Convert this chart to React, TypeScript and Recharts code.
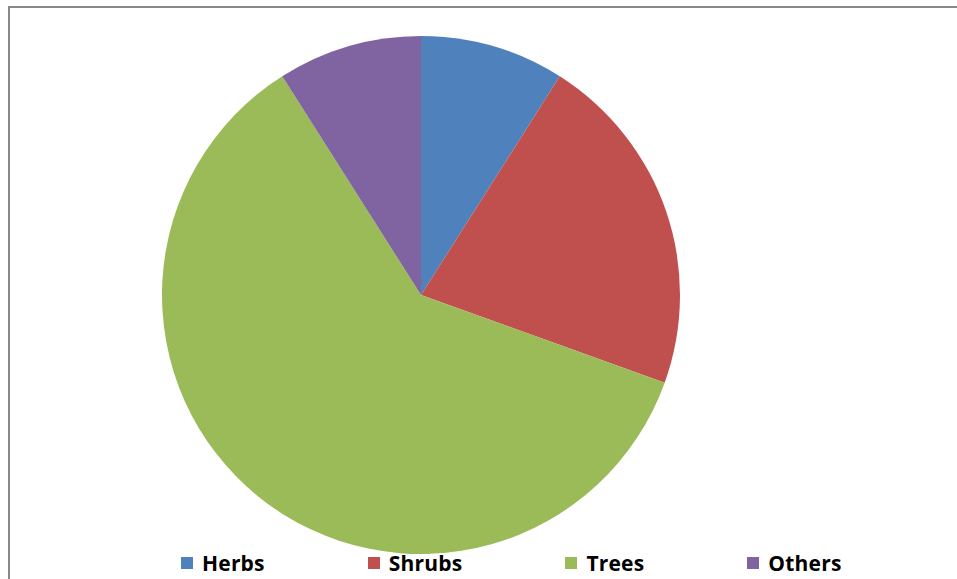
import { PieChart, Pie, Cell, Legend } from 'recharts'

const categories = ['Herbs', 'Shrubs', 'Trees', 'Others']
const values = [9, 21.5, 60.5, 9]
const colors = ['#4F81BD', '#C0504D', '#9BBB59', '#8064A2']

const data = categories.map((name, i) => ({ name, value: values[i] }))

function LegendRow() {
  return (
    <div style={{ display: 'flex', alignItems: 'center', gap: 103 }}>
      {categories.map((name, i) => (
        <div key={name} style={{ display: 'flex', alignItems: 'center' }}>
          <span style={{ width: 12, height: 12, background: colors[i], marginRight: 9, display: 'inline-block' }} />
          <span style={{ fontFamily: '"Open Sans", sans-serif', fontWeight: 700, fontSize: 21, color: '#000', lineHeight: '24px', letterSpacing: 0.2 }}>
            {name}
          </span>
        </div>
      ))}
    </div>
  )
}

export default function App() {
  return (
    <div style={{ position: 'fixed', left: 0, top: 0, width: 957, height: 579, overflow: 'hidden', background: '#fff' }}>
      <div
        style={{
          position: 'absolute',
          left: 8,
          top: 6,
          width: 1020,
          height: 620,
          border: '2px solid #888',
          boxSizing: 'border-box',
        }}
      />
      <div style={{ position: 'absolute', left: 0, top: 0 }}>
        <PieChart width={957} height={579} margin={{ top: 0, right: 0, bottom: 0, left: 0 }}>
          <Pie
            data={data}
            dataKey="value"
            nameKey="name"
            cx={421}
            cy={295}
            outerRadius={259}
            startAngle={90}
            endAngle={-270}
            stroke="none"
            isAnimationActive={false}
          >
            {data.map((d, i) => (
              <Cell key={d.name} fill={colors[i]} />
            ))}
          </Pie>
          <Legend content={<LegendRow />} wrapperStyle={{ left: 181, top: 551, width: 'auto' }} />
        </PieChart>
      </div>
    </div>
  )
}
